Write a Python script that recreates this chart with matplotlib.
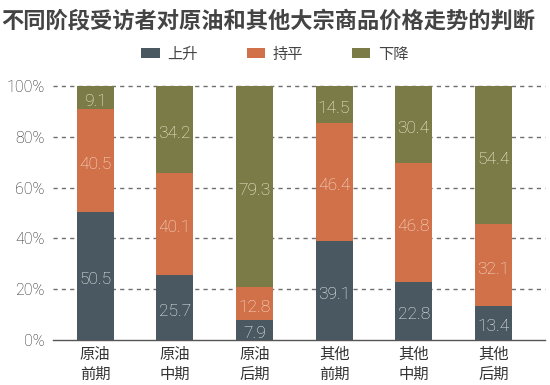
import matplotlib
matplotlib.use("Agg")
import matplotlib.pyplot as plt
import numpy as np

plt.rcParams['font.family'] = ['Noto Sans CJK SC', 'DejaVu Sans']
num_font = ['Roboto', 'Noto Sans CJK SC']

categories = ['原油\n前期', '原油\n中期', '原油\n后期', '其他\n前期', '其他\n中期', '其他\n后期']
series_names = ['上升', '持平', '下降']
rise = [50.5, 25.7, 7.9, 39.1, 22.8, 13.4]
flat = [40.5, 40.1, 12.8, 46.4, 46.8, 32.1]
fall = [9.1, 34.2, 79.3, 14.5, 30.4, 54.4]
y_ticks = [0, 20, 40, 60, 80, 100]

colors = ['#4a5961', '#d0714a', '#7a7b46']
label_colors = ['#f0f3f5', '#fde2cf', '#f6f4dc']

fig = plt.figure(figsize=(5.5, 3.85), dpi=100)
ax = fig.add_axes([53 / 550, 1 - 340 / 385, 492 / 550, 254 / 385])

x = np.arange(len(categories))
bottom = np.zeros(len(categories))
for vals, name, c, lc in zip([rise, flat, fall], series_names, colors, label_colors):
    vals = np.array(vals)
    ax.bar(x, vals, 0.465, bottom=bottom, color=c, label=name, zorder=3)
    for xi, b, v in zip(x, bottom, vals):
        ax.text(xi, b + v / 2 - 1.5, f'{v:.1f}', ha='center', va='center', family=num_font,
                color=lc, fontsize=12.5, fontweight='light', zorder=4)
    bottom += vals

ax.set_xlim(-0.53, 5.65)
ax.set_ylim(0, 100)
ax.set_yticks(y_ticks)
ax.set_yticklabels([f'{t}%' for t in y_ticks], fontsize=11.5, color='#222222',
                   fontweight='light', family=num_font)
ax.set_xticks(x)
ax.set_xticklabels(categories, fontsize=11, color='#333333', linespacing=1.25, fontweight='light')
ax.tick_params(axis='y', length=0, pad=6)
ax.tick_params(axis='x', length=0, pad=4)
for t in y_ticks[1:]:
    ax.axhline(t, color='#6f6f6f', lw=1, ls=(0, (3, 3)), zorder=1, clip_on=False)
for s in ['top', 'right', 'left']:
    ax.spines[s].set_visible(False)
ax.spines['bottom'].set_color('#555555')
ax.spines['bottom'].set_linewidth(1)

fig.text(0.003, 0.975, '不同阶段受访者对原油和其他大宗商品价格走势的判断', fontsize=16,
         fontweight='bold', color='#444444', ha='left', va='top')
fig.legend(loc='center', bbox_to_anchor=(0.5, 1 - 54 / 385), ncol=3, frameon=False,
           fontsize=11, handlelength=1.2, handleheight=0.6, columnspacing=3.2,
           handletextpad=0.5, labelcolor='#444444')

fig.savefig('out.png', dpi=100)
